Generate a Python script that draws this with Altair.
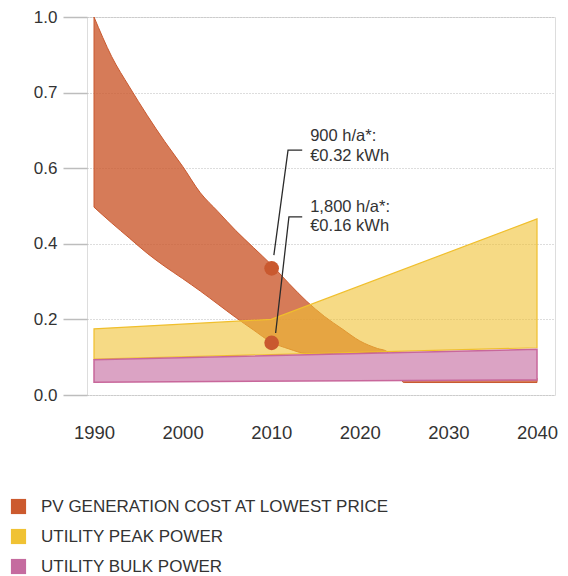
import altair as alt
import pandas as pd

# ---------------- data ----------------
series_names = ["PV GENERATION COST AT LOWEST PRICE", "UTILITY PEAK POWER", "UTILITY BULK POWER"]
series_colors = ["#cc5a2e", "#f0c233", "#c56b9f"]

pv_years = [1990, 1992, 1994, 1996, 1998, 2000, 2002, 2004, 2006, 2008, 2010,
            2012, 2014, 2016, 2018, 2020, 2022, 2023, 2024, 2025, 2040]
pv_upper = [1.0, 0.895, 0.815, 0.74, 0.67, 0.605, 0.535, 0.485, 0.435, 0.39, 0.345,
            0.295, 0.248, 0.208, 0.175, 0.143, 0.123, 0.116, 0.075, 0.045, 0.045]
pv_lower = [0.497, 0.455, 0.415, 0.375, 0.34, 0.308, 0.275, 0.24, 0.205, 0.172, 0.14,
            0.122, 0.11, 0.11, 0.111, 0.112, 0.113, 0.114, 0.07, 0.033, 0.033]

peak_years = [1990, 2010, 2040]
peak_upper = [0.175, 0.20, 0.466]
peak_lower = [0.095, 0.107, 0.125]

bulk_years = [1990, 2040]
bulk_upper = [0.093, 0.121]
bulk_lower = [0.034, 0.040]

dot_years = [2010.05, 2010.05]
dot_values = [0.335, 0.138]

leader1_x = [2010.3, 2011.9, 2013.5]
leader1_y = [0.370, 0.648, 0.648]
leader2_x = [2010.5, 2012.0, 2013.5]
leader2_y = [0.164, 0.471, 0.471]

note_x = [2014.4, 2014.4, 2014.4, 2014.4]
note_y = [0.672, 0.619, 0.485, 0.435]
note_text = ["900 h/a*:", "€0.32 kWh", "1,800 h/a*:", "€0.16 kWh"]

x_ticks = [1990, 2000, 2010, 2020, 2030, 2040]
y_ticks = [0.0, 0.2, 0.4, 0.6, 0.8, 1.0]
y_tick_labels = ["0.0", "0.2", "0.4", "0.6", "0.7", "1.0"]

# ---------------- tables ----------------
pv_df = pd.DataFrame({"year": pv_years, "hi": pv_upper, "lo": pv_lower, "series": series_names[0]})
peak_df = pd.DataFrame({"year": peak_years, "hi": peak_upper, "lo": peak_lower, "series": series_names[1]})
bulk_df = pd.DataFrame({"year": bulk_years, "hi": bulk_upper, "lo": bulk_lower, "series": series_names[2]})
dots_df = pd.DataFrame({"year": dot_years, "hi": dot_values})
lead_df = pd.DataFrame({
    "year": leader1_x + leader2_x,
    "hi": leader1_y + leader2_y,
    "g": ["a"] * len(leader1_x) + ["b"] * len(leader2_x),
    "o": list(range(len(leader1_x))) + list(range(len(leader2_x))),
})
notes_df = pd.DataFrame({"year": note_x, "hi": note_y, "t": note_text})

FONT = "Liberation Sans"
TXT = "#333333"

label_expr = " : ".join(
    [f"datum.value > {v - 0.01} && datum.value < {v + 0.01} ? '{l}'" for v, l in zip(y_ticks, y_tick_labels)]
) + " : ''"

x_scale = alt.Scale(domain=[1989.21, 2042.03], nice=False, zero=False)
y_scale = alt.Scale(domain=[0, 1], nice=False)

x_axis = alt.Axis(values=x_ticks, format="d", title=None, domain=False, ticks=False,
                  tickSize=0, grid=False, labelPadding=28, labelFontSize=18.5,
                  labelColor=TXT, labelFont=FONT)
y_axis = alt.Axis(values=y_ticks, title=None, domain=False, ticks=True, tickSize=24,
                  tickColor="#bdbdbd", tickWidth=1.5, labelPadding=6, labelFontSize=17,
                  labelColor=TXT, labelFont=FONT, labelExpr=label_expr,
                  grid=True, gridColor="#bbbbbb", gridDash=[1, 2], gridWidth=1)

x_enc = alt.X("year:Q", scale=x_scale, axis=x_axis)
y_enc = alt.Y("hi:Q", scale=y_scale, axis=y_axis)

color_scale = alt.Scale(domain=series_names, range=series_colors)
legend = alt.Legend(title=None, orient="none", legendX=-77, legendY=481, symbolType="square",
                    symbolSize=230, symbolOpacity=1, symbolStrokeWidth=0, labelFont=FONT,
                    labelFontSize=17, labelColor=TXT, labelOffset=14, rowPadding=12,
                    padding=0, labelLimit=600)


def band(df, opacity, stroke, sw, interp):
    return alt.Chart(df).mark_area(fillOpacity=opacity, stroke=stroke, strokeWidth=sw,
                                   interpolate=interp).encode(
        x=x_enc,
        y=y_enc,
        y2="lo:Q",
        fill=alt.Fill("series:N", scale=color_scale, legend=legend),
    )


pv = band(pv_df, 0.8, "#c9592f", 1, "monotone")
peak = band(peak_df, 0.6, "#f0bf2c", 1.2, "linear")
# white underlay so the bulk band keeps its own tint where it covers other bands
bulk_under = alt.Chart(bulk_df).mark_area(color="white", opacity=1).encode(
    x=x_enc, y=y_enc, y2="lo:Q")
bulk = band(bulk_df, 0.62, "#c8679b", 1.5, "linear")

leads = alt.Chart(lead_df).mark_line(color="#2b2b2b", strokeWidth=1.3).encode(
    x=x_enc, y=y_enc, detail="g:N", order="o:Q",
)

dots = alt.Chart(dots_df).mark_circle(size=215, color="#c9592f", opacity=1).encode(
    x=x_enc, y=y_enc,
)

notes = alt.Chart(notes_df).mark_text(align="left", baseline="alphabetic", font=FONT,
                                      fontSize=16.5, color=TXT).encode(
    x=x_enc, y=y_enc, text="t:N",
)

chart = alt.layer(pv, peak, bulk_under, bulk, leads, dots, notes).properties(
    width=468, height=378,
    autosize=alt.AutoSizeParams(type="none"),
    padding={"left": 79, "top": 9, "right": 5, "bottom": 181},
).configure_view(strokeWidth=0).configure(background="white")

chart.save("out.html", embed_options={"renderer": "svg", "actions": False})
